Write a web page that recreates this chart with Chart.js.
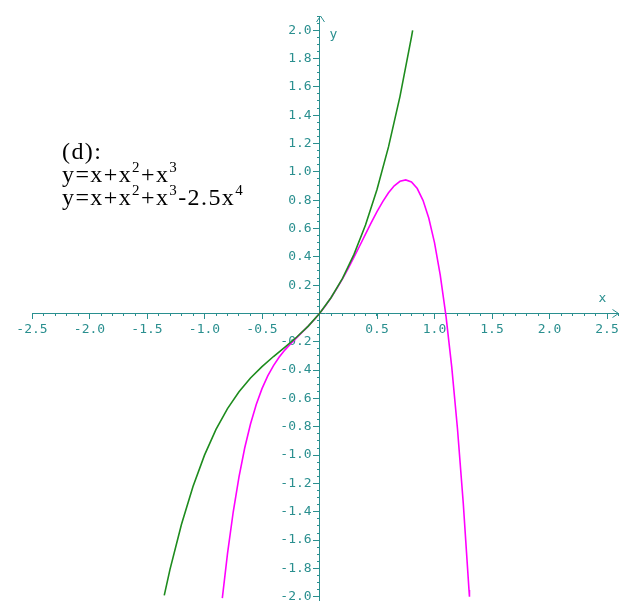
<!DOCTYPE html>
<html>
<head>
<meta charset="utf-8">
<script src="https://cdn.jsdelivr.net/npm/chart.js@4/dist/chart.umd.min.js"></script>
<style>
  body { margin: 0; background: #ffffff; }
  canvas { display: block; }
</style>
</head>
<body>
<canvas id="graph" width="620" height="601"></canvas>
<script>
// Global variables
var axisColor = '#2a8f8f';

// y = x + x^2 + x^3
var cubicX = [-1.35, -1.3, -1.2, -1.1, -1.0, -0.9, -0.8, -0.7, -0.6, -0.5, -0.4, -0.3, -0.2, -0.1,
  0, 0.1, 0.2, 0.3, 0.4, 0.5, 0.6, 0.7, 0.8, 0.81];
var cubicY = [-1.99, -1.807, -1.488, -1.221, -1.0, -0.819, -0.672, -0.553, -0.456, -0.375, -0.304, -0.237, -0.168, -0.091,
  0, 0.111, 0.248, 0.417, 0.624, 0.875, 1.176, 1.533, 1.952, 1.998];

// y = x + x^2 + x^3 - 2.5x^4
var quarticX = [-0.845, -0.8, -0.75, -0.7, -0.65, -0.6, -0.55, -0.5, -0.45, -0.4, -0.35, -0.3, -0.25, -0.2, -0.15, -0.1, -0.05,
  0, 0.05, 0.1, 0.15, 0.2, 0.25, 0.3, 0.35, 0.4, 0.45, 0.5, 0.55, 0.6, 0.65, 0.7, 0.75, 0.8, 0.85, 0.9, 0.95,
  1.0, 1.05, 1.1, 1.15, 1.2, 1.25, 1.3, 1.304];
var quarticY = [-2.01, -1.696, -1.4, -1.153, -0.948, -0.78, -0.643, -0.531, -0.441, -0.368, -0.308, -0.257, -0.213, -0.172, -0.132, -0.091, -0.048,
  0, 0.053, 0.111, 0.175, 0.244, 0.318, 0.397, 0.478, 0.56, 0.641, 0.719, 0.79, 0.852, 0.901, 0.933, 0.943, 0.928, 0.882, 0.799, 0.674,
  0.5, 0.271, -0.019, -0.379, -0.816, -1.338, -1.953, -2.0];

// axis ranges and label steps
var xRange = [-2.5, 2.6];
var yRange = [-2.03, 2.1];
var xMajorStep = 0.5;
var xMinorStep = 0.1;
var yMajorStep = 0.2;
var yMinorStep = 0.05;

// caption lines, each a list of [text, isSuperscript]
var captionLines = [
  [['(d):', false]],
  [['y=x+x', false], ['2', true], ['+x', false], ['3', true]],
  [['y=x+x', false], ['2', true], ['+x', false], ['3', true], ['-2.5x', false], ['4', true]]
];

function toPoints(xs, ys) {
  var points = [];
  for (var i = 0; i < xs.length; i++) {
    points.push({x: xs[i], y: ys[i]});
  }
  return points;
}

function xTickLabel(value) {
  if (Math.abs(value) < 1e-9) {
    return '';
  }
  return value.toFixed(1);
}

// y labels are right aligned on the axis itself, the trailing space keeps them off it
function yTickLabel(value) {
  if (Math.abs(value) < 1e-9) {
    return '';
  }
  return value.toFixed(1) + ' ';
}

function noPadding(scale) {
  scale.paddingLeft = 0;
  scale.paddingRight = 0;
  scale.paddingTop = 0;
  scale.paddingBottom = 0;
}

function makeScale(range, axis, step, tickLen, major) {
  var scale = {
    type: 'linear',
    axis: axis,
    min: range[0],
    max: range[1],
    position: axis === 'x' ? {y: 0} : {x: 0},
    afterFit: noPadding,
    grid: {
      drawOnChartArea: false,
      drawTicks: true,
      tickLength: tickLen,
      tickColor: axisColor,
      tickWidth: 1
    },
    border: {display: major, color: axisColor, width: 1},
    ticks: {
      stepSize: step,
      includeBounds: false,
      display: major,
      autoSkip: false,
      maxRotation: 0,
      padding: 3,
      color: axisColor,
      font: {family: 'DejaVu Sans Mono', size: 13},
      callback: axis === 'x' ? xTickLabel : yTickLabel
    }
  };
  return scale;
}

// arrows, axis names and the caption
var decorations = {
  id: 'decorations',
  afterDraw: function (chart) {
    var ctx = chart.ctx;
    var xs = chart.scales.x;
    var ys = chart.scales.y;
    var x0 = Math.round(xs.getPixelForValue(0)) + 0.5;
    var y0 = Math.round(ys.getPixelForValue(0)) + 0.5;
    var top = ys.getPixelForValue(yRange[1]);
    var right = xs.getPixelForValue(xRange[1]);

    ctx.save();
    ctx.strokeStyle = axisColor;
    ctx.lineWidth = 1;
    ctx.beginPath();
    ctx.moveTo(x0 - 4, top + 6);
    ctx.lineTo(x0, top);
    ctx.lineTo(x0 + 4, top + 6);
    ctx.moveTo(right - 6, y0 - 4);
    ctx.lineTo(right, y0);
    ctx.lineTo(right - 6, y0 + 4);
    ctx.stroke();

    ctx.fillStyle = axisColor;
    ctx.font = '13px "DejaVu Sans Mono"';
    ctx.textBaseline = 'alphabetic';
    ctx.fillText('y', x0 + 9, top + 22);
    ctx.fillText('x', right - 20, y0 - 12);

    // caption
    ctx.fillStyle = '#000000';
    ctx.letterSpacing = '1.4px';
    var baseY = 159;
    for (var i = 0; i < captionLines.length; i++) {
      var cx = 62;
      var parts = captionLines[i];
      for (var j = 0; j < parts.length; j++) {
        var sup = parts[j][1];
        ctx.font = (sup ? '15px' : '24px') + ' "Liberation Serif"';
        ctx.fillText(parts[j][0], cx, baseY + i * 23 - (sup ? 10 : 0));
        cx += ctx.measureText(parts[j][0]).width;
      }
    }
    ctx.restore();
  }
};

var canvas = document.getElementById('graph');
var ctx = canvas.getContext('2d');

var chart = new Chart(ctx, {
  type: 'scatter',
  data: {
    datasets: [
      {
        data: toPoints(cubicX, cubicY),
        showLine: true,
        borderColor: '#1e8c1e',
        borderWidth: 1.6,
        pointRadius: 0,
        tension: 0
      },
      {
        data: toPoints(quarticX, quarticY),
        showLine: true,
        borderColor: '#ff00ff',
        borderWidth: 1.6,
        pointRadius: 0,
        tension: 0
      }
    ]
  },
  options: {
    responsive: false,
    animation: false,
    layout: {padding: {left: 32, right: 1.5, top: 16, bottom: 0}},
    plugins: {
      legend: {display: false},
      tooltip: {enabled: false}
    },
    scales: {
      x: makeScale(xRange, 'x', xMajorStep, 5, true),
      xMinor: makeScale(xRange, 'x', xMinorStep, 3, false),
      y: makeScale(yRange, 'y', yMajorStep, 6, true),
      yMinor: makeScale(yRange, 'y', yMinorStep, 3, false)
    }
  },
  plugins: [decorations]
});
</script>
</body>
</html>
